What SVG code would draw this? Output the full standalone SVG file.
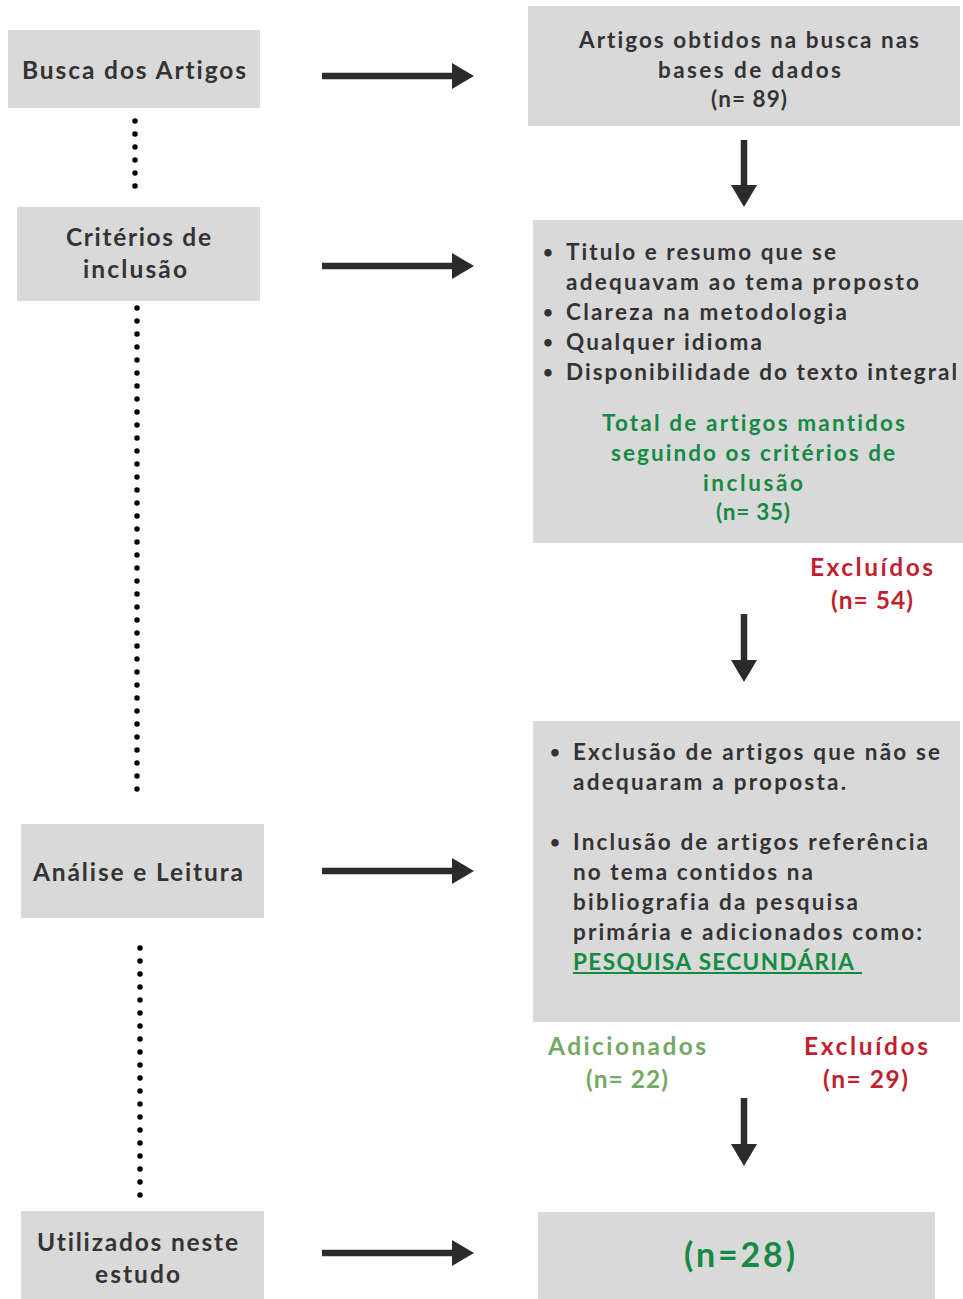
<svg xmlns="http://www.w3.org/2000/svg" width="963" height="1299" viewBox="0 0 963 1299">
<defs>
<style>
.box{fill:#d9d9d9}
.t{font-family:Lato,"Open Sans","Liberation Sans",sans-serif;font-weight:700;fill:#333333;font-variant-ligatures:none}
.s20{font-size:22.5px}
.s22{font-size:24.5px}
.b{font-size:17px}
.c{text-anchor:middle}
.g{fill:#148a43}
.lg{fill:#76a865}
.r{fill:#c11f2f}
.arr{stroke:#2b2b2b;stroke-width:6.5;fill:none}
.dot{stroke:#000;stroke-width:5.5;stroke-linecap:round;stroke-dasharray:0 13;fill:none}
</style>
<marker id="ah" markerUnits="userSpaceOnUse" markerWidth="22" markerHeight="26" refX="0" refY="13" orient="auto">
<path d="M0,0 L22,13 L0,26 z" fill="#2b2b2b"/>
</marker>
</defs>
<rect width="963" height="1299" fill="#ffffff"/>

<g id="connectors">
<line class="arr" x1="322" y1="76" x2="452" y2="76" marker-end="url(#ah)"/>
<line class="arr" x1="322" y1="266" x2="452" y2="266" marker-end="url(#ah)"/>
<line class="arr" x1="322" y1="871" x2="452" y2="871" marker-end="url(#ah)"/>
<line class="arr" x1="322" y1="1253" x2="452" y2="1253" marker-end="url(#ah)"/>
<line class="arr" x1="744" y1="140" x2="744" y2="185" marker-end="url(#ah)"/>
<line class="arr" x1="744" y1="614" x2="744" y2="660" marker-end="url(#ah)"/>
<line class="arr" x1="744" y1="1098" x2="744" y2="1144" marker-end="url(#ah)"/>
<line class="dot" x1="135" y1="121" x2="135" y2="187"/>
<line class="dot" x1="137" y1="308" x2="137" y2="791"/>
<line class="dot" x1="140" y1="948" x2="140" y2="1197"/>
</g>

<g id="busca">
<rect class="box" x="8" y="30" width="252" height="78"/>
<text class="t s22 c" x="134" y="79" textLength="224" lengthAdjust="spacing">Busca dos Artigos</text>
</g>

<g id="criterios">
<rect class="box" x="17" y="207" width="243" height="94"/>
<text class="t s22 c" x="138.5" y="246" textLength="145" lengthAdjust="spacing">Critérios de</text>
<text class="t s22 c" x="135" y="278" textLength="104" lengthAdjust="spacing">inclusão</text>
</g>

<g id="analise">
<rect class="box" x="21" y="824" width="243" height="94"/>
<text class="t s22 c" x="138" y="881" textLength="210" lengthAdjust="spacing">Análise e Leitura</text>
</g>

<g id="utilizados">
<rect class="box" x="21" y="1211" width="243" height="88"/>
<text class="t s22 c" x="137.5" y="1251" textLength="201" lengthAdjust="spacing">Utilizados neste</text>
<text class="t s22 c" x="137.5" y="1283" textLength="85" lengthAdjust="spacing">estudo</text>
</g>

<g id="obtidos">
<rect class="box" x="528" y="6" width="432" height="120"/>
<text class="t s20 c" x="749" y="48" textLength="340" lengthAdjust="spacing">Artigos obtidos na busca nas</text>
<text class="t s20 c" x="749.5" y="78" textLength="183" lengthAdjust="spacing">bases de dados</text>
<text class="t s20 c" x="749" y="107" textLength="76" lengthAdjust="spacing">(n= 89)</text>
</g>

<g id="inclusao">
<rect class="box" x="533" y="220" width="430" height="323"/>
<text class="t b" x="543" y="258">•</text>
<text class="t s20" x="566" y="260" textLength="270" lengthAdjust="spacing">Titulo e resumo que se</text>
<text class="t s20" x="566" y="290" textLength="353" lengthAdjust="spacing">adequavam ao tema proposto</text>
<text class="t b" x="543" y="318">•</text>
<text class="t s20" x="566" y="320" textLength="281" lengthAdjust="spacing">Clareza na metodologia</text>
<text class="t b" x="543" y="348">•</text>
<text class="t s20" x="566" y="350" textLength="196" lengthAdjust="spacing">Qualquer idioma</text>
<text class="t b" x="543" y="378">•</text>
<text class="t s20" x="566" y="380" textLength="391" lengthAdjust="spacing">Disponibilidade do texto integral</text>
<text class="t s20 c g" x="753.5" y="431" textLength="303" lengthAdjust="spacing">Total de artigos mantidos</text>
<text class="t s20 c g" x="753" y="461" textLength="284" lengthAdjust="spacing">seguindo os critérios de</text>
<text class="t s20 c g" x="753" y="491" textLength="100" lengthAdjust="spacing">inclusão</text>
<text class="t s20 c g" x="753" y="520" textLength="74" lengthAdjust="spacing">(n= 35)</text>
</g>

<g id="excluidos1">
<text class="t s22 c r" x="871.5" y="576" textLength="123" lengthAdjust="spacing">Excluídos</text>
<text class="t s22 c r" x="872" y="609" textLength="82" lengthAdjust="spacing">(n= 54)</text>
</g>

<g id="analise-detalhe">
<rect class="box" x="533" y="721" width="427" height="301"/>
<text class="t b" x="550" y="758">•</text>
<text class="t s20" x="573" y="760" textLength="367" lengthAdjust="spacing">Exclusão de artigos que não se</text>
<text class="t s20" x="573" y="790" textLength="273" lengthAdjust="spacing">adequaram a proposta.</text>
<text class="t b" x="550" y="848">•</text>
<text class="t s20" x="573" y="850" textLength="355" lengthAdjust="spacing">Inclusão de artigos referência</text>
<text class="t s20" x="573" y="880" textLength="240" lengthAdjust="spacing">no tema contidos na</text>
<text class="t s20" x="573" y="910" textLength="285" lengthAdjust="spacing">bibliografia da pesquisa</text>
<text class="t s20" x="573" y="940" textLength="349" lengthAdjust="spacing">primária e adicionados como:</text>
<text class="t s20 g" x="573" y="970" textLength="281" lengthAdjust="spacing">PESQUISA SECUNDÁRIA</text>
<line x1="573" y1="973" x2="862" y2="973" stroke="#148a43" stroke-width="2"/>
</g>

<g id="adicionados">
<text class="t s22 c lg" x="627" y="1055" textLength="158" lengthAdjust="spacing">Adicionados</text>
<text class="t s22 c lg" x="627" y="1088" textLength="82" lengthAdjust="spacing">(n= 22)</text>
</g>

<g id="excluidos2">
<text class="t s22 c r" x="866" y="1055" textLength="124" lengthAdjust="spacing">Excluídos</text>
<text class="t s22 c r" x="865.5" y="1088" textLength="85" lengthAdjust="spacing">(n= 29)</text>
</g>

<g id="final">
<rect class="box" x="538" y="1212" width="397" height="87"/>
<text class="t c g" style="font-size:34px" x="739.5" y="1267" textLength="111" lengthAdjust="spacing">(n=28)</text>
</g>
</svg>
